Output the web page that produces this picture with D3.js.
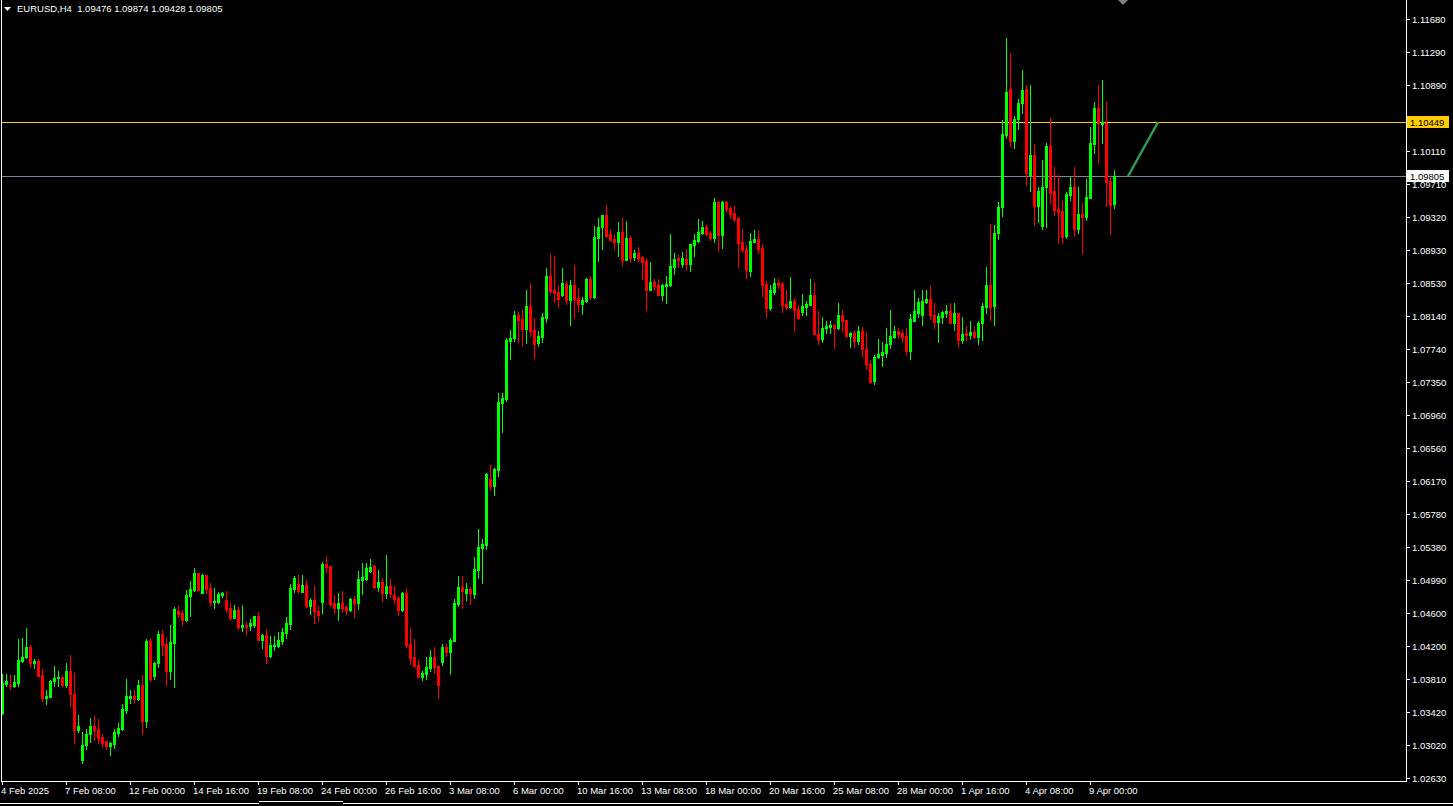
<!DOCTYPE html>
<html><head><meta charset="utf-8">
<script src="https://cdn.jsdelivr.net/npm/d3@7"></script>
<style>html,body{margin:0;padding:0;background:#000;overflow:hidden}svg{display:block}</style>
</head><body><svg id="c" width="1453" height="806"></svg>
<script>
const symbolTitle = "EURUSD,H4  1.09476 1.09874 1.09428 1.09805";
const opens = [1.0340,1.0375,1.0374,1.0373,1.0376,1.0402,1.0407,1.0419,1.0400,1.0402,
1.0386,1.0358,1.0359,1.0379,1.0382,1.0383,1.0374,1.0390,1.0363,1.0320,
1.0284,1.0302,1.0315,1.0325,1.0321,1.0312,1.0307,1.0301,1.0303,1.0317,
1.0321,1.0344,1.0358,1.0361,1.0357,1.0374,1.0331,1.0426,1.0385,1.0400,
1.0435,1.0423,1.0390,1.0424,1.0462,1.0460,1.0451,1.0480,1.0487,1.0507,
1.0484,1.0505,1.0489,1.0473,1.0473,1.0481,1.0475,1.0466,1.0454,1.0463,
1.0443,1.0445,1.0444,1.0445,1.0456,1.0427,1.0433,1.0408,1.0420,1.0420,
1.0426,1.0436,1.0447,1.0488,1.0494,1.0485,1.0493,1.0468,1.0475,1.0462,
1.0473,1.0518,1.0516,1.0472,1.0466,1.0472,1.0467,1.0463,1.0476,1.0472,
1.0499,1.0500,1.0510,1.0516,1.0491,1.0497,1.0484,1.0492,1.0481,1.0478,
1.0463,1.0484,1.0423,1.0407,1.0398,1.0383,1.0387,1.0394,1.0407,1.0396,
1.0401,1.0419,1.0413,1.0426,1.0470,1.0491,1.0484,1.0488,1.0482,1.0511,
1.0537,1.0541,1.0619,1.0611,1.0630,1.0710,1.0715,1.0784,1.0788,1.0815,
1.0810,1.0798,1.0826,1.0797,1.0782,1.0789,1.0811,1.0862,1.0845,1.0842,
1.0839,1.0852,1.0833,1.0851,1.0835,1.0828,1.0832,1.0858,1.0836,1.0907,
1.0920,1.0934,1.0912,1.0906,1.0902,1.0914,1.0881,1.0907,1.0884,1.0889,
1.0884,1.0879,1.0845,1.0854,1.0851,1.0839,1.0850,1.0851,1.0872,1.0883,
1.0876,1.0882,1.0876,1.0898,1.0903,1.0913,1.0920,1.0913,1.0907,1.0950,
1.0910,1.0950,1.0943,1.0937,1.0931,1.0902,1.0894,1.0867,1.0902,1.0906,
1.0895,1.0852,1.0823,1.0842,1.0853,1.0852,1.0828,1.0825,1.0832,1.0822,
1.0819,1.0825,1.0827,1.0839,1.0792,1.0786,1.0800,1.0801,1.0803,1.0800,
1.0815,1.0809,1.0790,1.0794,1.0784,1.0796,1.0774,1.0757,1.0736,1.0765,
1.0767,1.0770,1.0780,1.0789,1.0796,1.0794,1.0790,1.0772,1.0808,1.0817,
1.0815,1.0831,1.0834,1.0815,1.0807,1.0813,1.0817,1.0820,1.0805,1.0817,
1.0785,1.0794,1.0791,1.0795,1.0789,1.0805,1.0825,1.0851,1.0826,1.0913,
1.0944,1.1030,1.1085,1.1023,1.1049,1.1068,1.1085,1.0982,1.1006,1.0945,
1.0921,1.0968,1.1017,1.0963,1.0941,1.0939,1.0909,1.0958,1.0968,1.0918,
1.0935,1.0932,1.0955,1.1019,1.1062,1.1043,1.1044,1.0975,1.09476];
const highs = [1.0387,1.0387,1.0386,1.0386,1.0429,1.0430,1.0442,1.0422,1.0405,1.0405,
1.0393,1.0368,1.0380,1.0396,1.0390,1.0386,1.0400,1.0410,1.0388,1.0338,
1.0318,1.0321,1.0334,1.0337,1.0333,1.0315,1.0307,1.0306,1.0321,1.0328,
1.0351,1.0381,1.0368,1.0368,1.0380,1.0386,1.0429,1.0430,1.0401,1.0438,
1.0439,1.0431,1.0445,1.0467,1.0468,1.0463,1.0487,1.0498,1.0513,1.0507,
1.0506,1.0505,1.0495,1.0489,1.0485,1.0485,1.0486,1.0472,1.0469,1.0467,
1.0469,1.0449,1.0453,1.0456,1.0461,1.0435,1.0441,1.0432,1.0432,1.0437,
1.0442,1.0455,1.0494,1.0504,1.0505,1.0505,1.0499,1.0478,1.0492,1.0468,
1.0520,1.0528,1.0516,1.0481,1.0484,1.0486,1.0469,1.0478,1.0480,1.0510,
1.0519,1.0519,1.0524,1.0517,1.0511,1.0501,1.0529,1.0500,1.0492,1.0480,
1.0485,1.0489,1.0442,1.0429,1.0404,1.0390,1.0407,1.0416,1.0419,1.0398,
1.0423,1.0423,1.0430,1.0476,1.0504,1.0504,1.0495,1.0491,1.0526,1.0560,
1.0548,1.0627,1.0636,1.0633,1.0722,1.0722,1.0788,1.0797,1.0820,1.0819,
1.0822,1.0845,1.0853,1.0811,1.0796,1.0817,1.0871,1.0888,1.0885,1.0851,
1.0871,1.0856,1.0857,1.0875,1.0847,1.0836,1.0859,1.0862,1.0921,1.0931,
1.0934,1.0946,1.0918,1.0912,1.0926,1.0931,1.0927,1.0909,1.0893,1.0896,
1.0885,1.0883,1.0878,1.0858,1.0858,1.0852,1.0862,1.0912,1.0889,1.0887,
1.0890,1.0894,1.0900,1.0912,1.0930,1.0927,1.0922,1.0915,1.0955,1.0951,
1.0951,1.0951,1.0945,1.0945,1.0932,1.0918,1.0898,1.0913,1.0916,1.0916,
1.0900,1.0856,1.0851,1.0859,1.0858,1.0854,1.0845,1.0860,1.0835,1.0827,
1.0840,1.0832,1.0858,1.0854,1.0820,1.0813,1.0808,1.0808,1.0804,1.0829,
1.0821,1.0809,1.0795,1.0797,1.0802,1.0801,1.0795,1.0761,1.0767,1.0786,
1.0783,1.0800,1.0821,1.0802,1.0800,1.0797,1.0800,1.0816,1.0845,1.0835,
1.0845,1.0845,1.0850,1.0829,1.0817,1.0820,1.0827,1.0829,1.0829,1.0817,
1.0813,1.0802,1.0808,1.0802,1.0808,1.0829,1.0872,1.0924,1.0922,1.0950,
1.1048,1.1145,1.1127,1.1052,1.1073,1.1107,1.1089,1.1089,1.1019,1.0968,
1.1000,1.1020,1.1050,1.0992,1.0982,1.0952,1.0962,1.0980,1.0992,1.0968,
1.0949,1.0977,1.1039,1.1069,1.1089,1.1095,1.1069,1.0982,1.09874];
const lows = [1.0339,1.0373,1.0369,1.0371,1.0373,1.0401,1.0406,1.0395,1.0394,1.0385,
1.0355,1.0351,1.0359,1.0373,1.0373,1.0373,1.0371,1.0349,1.0305,1.0318,
1.0281,1.0297,1.0306,1.0308,1.0305,1.0300,1.0297,1.0290,1.0299,1.0313,
1.0320,1.0340,1.0352,1.0354,1.0356,1.0315,1.0324,1.0379,1.0381,1.0395,
1.0410,1.0374,1.0381,1.0371,1.0455,1.0445,1.0450,1.0456,1.0486,1.0487,
1.0484,1.0484,1.0469,1.0466,1.0472,1.0479,1.0461,1.0451,1.0454,1.0441,
1.0438,1.0433,1.0439,1.0443,1.0427,1.0418,1.0400,1.0407,1.0416,1.0419,
1.0423,1.0430,1.0441,1.0485,1.0484,1.0485,1.0467,1.0458,1.0448,1.0450,
1.0460,1.0509,1.0468,1.0460,1.0451,1.0461,1.0458,1.0462,1.0455,1.0464,
1.0482,1.0499,1.0509,1.0489,1.0486,1.0474,1.0478,1.0479,1.0472,1.0457,
1.0462,1.0419,1.0399,1.0395,1.0383,1.0380,1.0381,1.0390,1.0388,1.0358,
1.0398,1.0408,1.0387,1.0426,1.0468,1.0466,1.0475,1.0470,1.0478,1.0501,
1.0495,1.0536,1.0608,1.0600,1.0623,1.0676,1.0712,1.0763,1.0784,1.0783,
1.0779,1.0782,1.0790,1.0764,1.0778,1.0783,1.0807,1.0841,1.0831,1.0825,
1.0838,1.0828,1.0803,1.0811,1.0820,1.0816,1.0831,1.0834,1.0835,1.0879,
1.0894,1.0908,1.0904,1.0894,1.0885,1.0875,1.0881,1.0878,1.0881,1.0878,
1.0858,1.0821,1.0845,1.0845,1.0839,1.0833,1.0829,1.0850,1.0864,1.0872,
1.0872,1.0869,1.0867,1.0885,1.0902,1.0912,1.0910,1.0904,1.0902,1.0891,
1.0895,1.0939,1.0931,1.0927,1.0872,1.0890,1.0859,1.0862,1.0902,1.0889,
1.0838,1.0813,1.0821,1.0840,1.0847,1.0819,1.0822,1.0823,1.0796,1.0810,
1.0815,1.0815,1.0827,1.0792,1.0780,1.0783,1.0794,1.0794,1.0776,1.0798,
1.0796,1.0789,1.0777,1.0777,1.0780,1.0766,1.0751,1.0734,1.0733,1.0764,
1.0754,1.0765,1.0776,1.0788,1.0788,1.0783,1.0767,1.0763,1.0808,1.0813,
1.0803,1.0829,1.0810,1.0800,1.0783,1.0805,1.0813,1.0805,1.0797,1.0777,
1.0782,1.0785,1.0786,1.0788,1.0780,1.0785,1.0817,1.0809,1.0803,1.0906,
1.0933,1.1026,1.1017,1.1014,1.1037,1.1056,1.0970,1.0963,1.0922,1.0926,
1.0918,1.0920,1.0949,1.0934,1.0901,1.0901,1.0907,1.0952,1.0909,1.0913,
1.0889,1.0928,1.0955,1.1008,1.0996,1.1020,1.0945,1.0912,1.09428];
const closes = [1.0376,1.0379,1.0373,1.0377,1.0404,1.0407,1.0419,1.0400,1.0402,1.0385,
1.0358,1.0361,1.0379,1.0382,1.0383,1.0374,1.0390,1.0363,1.0320,1.0325,
1.0302,1.0315,1.0325,1.0320,1.0311,1.0305,1.0301,1.0305,1.0318,1.0323,
1.0345,1.0361,1.0361,1.0357,1.0374,1.0331,1.0426,1.0381,1.0400,1.0435,
1.0422,1.0390,1.0425,1.0464,1.0458,1.0451,1.0481,1.0488,1.0507,1.0487,
1.0505,1.0488,1.0473,1.0474,1.0482,1.0484,1.0464,1.0454,1.0463,1.0443,
1.0445,1.0443,1.0448,1.0456,1.0427,1.0433,1.0408,1.0422,1.0422,1.0427,
1.0437,1.0448,1.0489,1.0501,1.0486,1.0493,1.0468,1.0475,1.0462,1.0457,
1.0518,1.0515,1.0470,1.0466,1.0472,1.0466,1.0463,1.0476,1.0472,1.0500,
1.0503,1.0513,1.0515,1.0491,1.0497,1.0484,1.0492,1.0484,1.0476,1.0463,
1.0484,1.0422,1.0406,1.0396,1.0383,1.0388,1.0395,1.0407,1.0395,1.0374,
1.0419,1.0413,1.0427,1.0472,1.0491,1.0486,1.0488,1.0484,1.0512,1.0538,
1.0542,1.0625,1.0611,1.0631,1.0711,1.0716,1.0785,1.0788,1.0815,1.0809,
1.0798,1.0826,1.0796,1.0780,1.0790,1.0813,1.0862,1.0844,1.0841,1.0834,
1.0853,1.0833,1.0851,1.0834,1.0828,1.0833,1.0858,1.0836,1.0908,1.0920,
1.0934,1.0909,1.0904,1.0902,1.0914,1.0881,1.0907,1.0883,1.0889,1.0883,
1.0878,1.0845,1.0854,1.0850,1.0839,1.0851,1.0852,1.0873,1.0882,1.0881,
1.0883,1.0876,1.0900,1.0904,1.0914,1.0920,1.0912,1.0907,1.0950,1.0910,
1.0950,1.0941,1.0935,1.0930,1.0901,1.0893,1.0869,1.0903,1.0906,1.0894,
1.0851,1.0823,1.0845,1.0853,1.0851,1.0827,1.0825,1.0832,1.0821,1.0811,
1.0826,1.0828,1.0839,1.0792,1.0786,1.0800,1.0802,1.0803,1.0800,1.0815,
1.0808,1.0790,1.0794,1.0784,1.0796,1.0774,1.0757,1.0735,1.0765,1.0769,
1.0771,1.0780,1.0790,1.0796,1.0792,1.0789,1.0772,1.0810,1.0820,1.0831,
1.0832,1.0834,1.0815,1.0807,1.0814,1.0819,1.0820,1.0805,1.0817,1.0785,
1.0792,1.0791,1.0795,1.0789,1.0805,1.0826,1.0851,1.0825,1.0913,1.0944,
1.1031,1.1081,1.1023,1.1049,1.1068,1.1083,1.0984,1.1006,1.0945,1.0963,
1.0968,1.1017,1.0961,1.0940,1.0938,1.0908,1.0959,1.0968,1.0918,1.0935,
1.0932,1.0956,1.1020,1.1062,1.1044,1.1045,1.0974,1.0946,1.09805];

const timeTickBars = [0,16,32,48,64,80,96,112,128,144,160,176,192,208,224,240,256,272];
const timeTickLabels = ["4 Feb 2025","7 Feb 08:00","12 Feb 00:00","14 Feb 16:00","19 Feb 08:00","24 Feb 00:00","26 Feb 16:00","3 Mar 08:00","6 Mar 00:00","10 Mar 16:00","13 Mar 08:00","18 Mar 00:00","20 Mar 16:00","25 Mar 08:00","28 Mar 00:00","1 Apr 16:00","4 Apr 08:00","9 Apr 00:00"];
const priceTicks = [1.11680,1.11290,1.10890,1.10110,1.09710,1.09320,1.08930,1.08530,1.08140,1.07740,1.07350,1.06960,1.06560,1.06170,1.05780,1.05380,1.04990,1.04600,1.04200,1.03810,1.03420,1.03020,1.02630];
const levelPrice = 1.10449;
const bidPrice = 1.09805;
const trendBars = [281.5, 289];
const trendPrices = [1.09805, 1.10449];

const W = 1453, H = 806;
const svg = d3.select("#c");
const FONT = "'Liberation Sans', Arial, sans-serif";

const x = d3.scaleLinear().domain([0, 278]).range([2, 1114]);
const y = d3.scaleLinear().domain([1.02630, 1.11680]).range([778, 19]);

svg.append("rect").attr("width", W).attr("height", H).attr("fill", "#000");

const plot = svg.append("g").attr("shape-rendering", "crispEdges");

plot.append("rect").attr("x", 1).attr("y", Math.round(y(levelPrice))).attr("width", 1405).attr("height", 1).attr("fill", "#ffcc00");
plot.append("rect").attr("x", 1).attr("y", Math.round(y(bidPrice))).attr("width", 1405).attr("height", 1).attr("fill", "#778899");

const data = opens.map((o, i) => ({i, o, h: highs[i], l: lows[i], c: closes[i]}));
const cg = plot.append("g");
cg.selectAll(".w").data(data).join("rect")
  .attr("x", d => Math.round(x(d.i)))
  .attr("y", d => Math.round(y(d.h)))
  .attr("width", 1)
  .attr("height", d => Math.max(1, Math.round(y(d.l)) - Math.round(y(d.h)) + 1))
  .attr("fill", d => d.c >= d.o ? "#00ff00" : "#ff0000");
cg.selectAll(".b").data(data).join("rect")
  .attr("x", d => Math.round(x(d.i)) - 1)
  .attr("y", d => Math.round(y(Math.max(d.o, d.c))))
  .attr("width", 3)
  .attr("height", d => Math.max(1, Math.round(y(Math.min(d.o, d.c))) - Math.round(y(Math.max(d.o, d.c))) + 1))
  .attr("fill", d => d.c >= d.o ? "#00ff00" : "#ff0000");

svg.append("line")
  .attr("x1", x(trendBars[0])).attr("y1", y(trendPrices[0]))
  .attr("x2", x(trendBars[1])).attr("y2", y(trendPrices[1]))
  .attr("stroke", "#2e9e50").attr("stroke-width", 2.5);

plot.append("rect").attr("x", 1).attr("y", 0).attr("width", 1).attr("height", 782).attr("fill", "#fff");
plot.append("rect").attr("x", 1406).attr("y", 0).attr("width", 1).attr("height", 782).attr("fill", "#fff");
plot.append("rect").attr("x", 1).attr("y", 781).attr("width", 1406).attr("height", 1).attr("fill", "#fff");

const pa = svg.append("g");
priceTicks.forEach(p => {
  const yy = Math.round(y(p));
  pa.append("rect").attr("x", 1407).attr("y", yy).attr("width", 3).attr("height", 1).attr("fill", "#fff").attr("shape-rendering", "crispEdges");
  pa.append("text").attr("x", 1412).attr("y", yy + 3.5).attr("fill", "#fff")
    .attr("font-family", FONT).attr("font-size", "9.5px").text(p.toFixed(5));
});
function priceLabel(p, bg) {
  const yy = Math.round(y(p));
  pa.append("rect").attr("x", 1407).attr("y", yy - 6).attr("width", 42).attr("height", 12).attr("fill", bg).attr("shape-rendering", "crispEdges");
  pa.append("text").attr("x", 1410).attr("y", yy + 3.5).attr("fill", "#000")
    .attr("font-family", FONT).attr("font-size", "9.5px").text(p.toFixed(5));
}
priceLabel(levelPrice, "#ffcc00");
priceLabel(bidPrice, "#ffffff");

const ta = svg.append("g");
timeTickBars.forEach((b, k) => {
  const xx = Math.round(x(b));
  ta.append("rect").attr("x", xx).attr("y", 782).attr("width", 1).attr("height", 3).attr("fill", "#fff").attr("shape-rendering", "crispEdges");
  ta.append("text").attr("x", xx - 1).attr("y", 794).attr("fill", "#fff")
    .attr("font-family", FONT).attr("font-size", "9.5px").text(timeTickLabels[k]);
});

svg.append("path").attr("d", "M4,7 L11,7 L7.5,11 Z").attr("fill", "#fff");
svg.append("text").attr("x", 17).attr("y", 12).attr("fill", "#fff")
  .attr("font-family", FONT).attr("font-size", "9.5px").attr("xml:space", "preserve")
  .style("white-space", "pre").text(symbolTitle);

svg.append("path").attr("d", "M1118,0 L1128,0 L1123,5 Z").attr("fill", "#808080");

const tb = svg.append("g").attr("shape-rendering", "crispEdges");
tb.append("rect").attr("x", 0).attr("y", 803).attr("width", 259).attr("height", 1).attr("fill", "#fff");
tb.append("rect").attr("x", 343).attr("y", 803).attr("width", 1110).attr("height", 1).attr("fill", "#fff");
tb.append("rect").attr("x", 259).attr("y", 801).attr("width", 84).attr("height", 1).attr("fill", "#fff");
</script>
</body></html>
